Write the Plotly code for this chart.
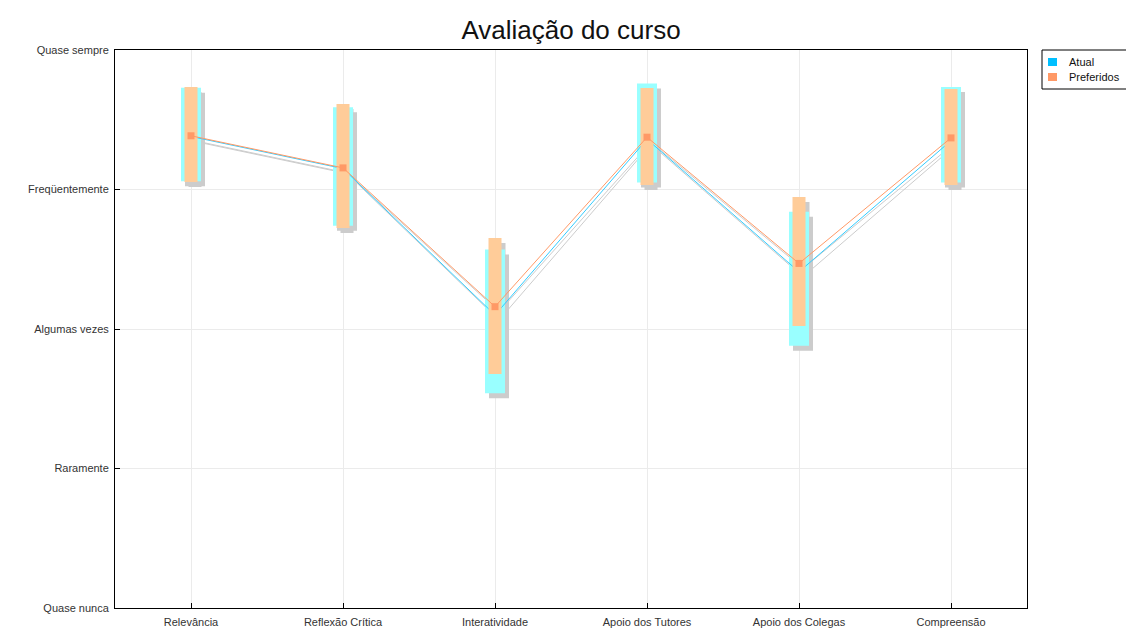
import plotly.graph_objects as go

# ---------------- data ----------------
categories = ["Relevância", "Reflexão Crítica", "Interatividade",
              "Apoio dos Tutores", "Apoio dos Colegas", "Compreensão"]
level_labels = ["Quase nunca", "Raramente", "Algumas vezes",
                "Freqüentemente", "Quase sempre"]
level_values = [1, 2, 3, 4, 5]
series_names = ["Atual", "Preferidos"]

atual_mean = [4.38, 4.15, 3.10, 4.36, 3.41, 4.35]
atual_low = [4.06, 3.74, 2.54, 4.05, 2.88, 4.05]
atual_high = [4.73, 4.59, 3.57, 4.76, 3.84, 4.735]

pref_mean = [4.385, 4.155, 3.16, 4.375, 3.47, 4.37]
pref_low = [4.054, 3.724, 2.677, 4.032, 3.022, 4.032]
pref_high = [4.735, 4.613, 3.652, 4.728, 3.946, 4.72]

# ---------------- style ----------------
W, H = 1126, 629
ML, MR, MT, MB = 115, 99, 50, 21
PW, PH = W - ML - MR, H - MT - MB
XMIN, XMAX = -0.5, len(categories) - 0.5
YMIN, YMAX = 1, 5
PX_X = (XMAX - XMIN) / PW   # data units per pixel
PX_Y = (YMAX - YMIN) / PH

C_ATUAL_BAR = "#99ffff"
C_PREF_BAR = "#ffcc99"
C_SHADOW = "#cccccc"
C_ATUAL_LINE = "#33ccff"
C_PREF_LINE = "#ff9966"
C_ATUAL_LEG = "#00bfff"

SH_DX, SH_DY = 4 * PX_X, -5 * PX_Y
HW_ATUAL = 10 * PX_X
HW_PREF = 6.5 * PX_X


def rects(lows, highs, hw, dx=0.0, dy=0.0):
    xs, ys = [], []
    for i, (lo, hi) in enumerate(zip(lows, highs)):
        x0, x1 = i - hw + dx, i + hw + dx
        xs += [x0, x1, x1, x0, x0, None]
        ys += [lo + dy, lo + dy, hi + dy, hi + dy, lo + dy, None]
    return xs, ys


xi = list(range(len(categories)))
fig = go.Figure()

# shadows of bars
for lows, highs, hw in [(atual_low, atual_high, HW_ATUAL), (pref_low, pref_high, HW_PREF)]:
    xs, ys = rects(lows, highs, hw, SH_DX, SH_DY)
    fig.add_trace(go.Scatter(x=xs, y=ys, mode="lines", fill="toself",
                             fillcolor=C_SHADOW, line=dict(width=0),
                             showlegend=False, hoverinfo="skip"))
# shadows of lines
for means in [atual_mean, pref_mean]:
    fig.add_trace(go.Scatter(x=[x + SH_DX for x in xi], y=[m + SH_DY for m in means],
                             mode="lines", line=dict(color=C_SHADOW, width=1),
                             showlegend=False, hoverinfo="skip"))
# atual bars and line
xs, ys = rects(atual_low, atual_high, HW_ATUAL)
fig.add_trace(go.Scatter(x=xs, y=ys, mode="lines", fill="toself",
                         fillcolor=C_ATUAL_BAR, line=dict(width=0),
                         name=series_names[0], showlegend=False, hoverinfo="skip"))
fig.add_trace(go.Scatter(x=xi, y=atual_mean, mode="lines",
                         line=dict(color=C_ATUAL_LINE, width=1),
                         name=series_names[0], showlegend=False, hoverinfo="skip"))
# preferidos bars and line
xs, ys = rects(pref_low, pref_high, HW_PREF)
fig.add_trace(go.Scatter(x=xs, y=ys, mode="lines", fill="toself",
                         fillcolor=C_PREF_BAR, line=dict(width=0),
                         name=series_names[1], showlegend=False, hoverinfo="skip"))
fig.add_trace(go.Scatter(x=xi, y=pref_mean, mode="lines+markers",
                         line=dict(color=C_PREF_LINE, width=1),
                         marker=dict(symbol="square", size=7, color=C_PREF_LINE),
                         name=series_names[1], showlegend=False, hoverinfo="skip"))

FONT = "Liberation Sans, Arial, sans-serif"


def px(xp):
    return (xp - ML) / PW


def py(yp):
    return 1 - (yp - MT) / PH


# legend box (drawn as shapes + text so it sits like the reference)
shapes = [dict(type="rect", xref="paper", yref="paper",
               x0=px(1042), x1=px(1140), y0=py(89), y1=py(50),
               line=dict(color="black", width=1), fillcolor="white", layer="above")]
annotations = []
for k, (name, col) in enumerate(zip(series_names, [C_ATUAL_LEG, C_PREF_LINE])):
    yc = 62 + 15 * k
    shapes.append(dict(type="rect", xref="paper", yref="paper",
                       x0=px(1048), x1=px(1057), y0=py(yc + 4), y1=py(yc - 4),
                       line=dict(width=0), fillcolor=col, layer="above"))
    annotations.append(dict(text=name, xref="paper", yref="paper",
                            x=px(1067), y=py(yc), xanchor="left", yanchor="middle",
                            showarrow=False,
                            font=dict(family=FONT, size=11, color="#111111")))

fig.update_layout(
    width=W, height=H,
    margin=dict(l=ML, r=MR, t=MT, b=MB, autoexpand=False),
    paper_bgcolor="white", plot_bgcolor="white",
    font=dict(family=FONT, size=11, color="#333333"),
    title=dict(text="Avaliação do curso", x=(ML + PW / 2) / W, xanchor="center",
               y=1 - 30 / H, yanchor="middle",
               font=dict(family=FONT, size=26, color="#111111")),
    showlegend=False,
    shapes=shapes,
    annotations=annotations,
    xaxis=dict(range=[XMIN, XMAX], tickmode="array", tickvals=xi, ticktext=categories,
               showgrid=True, gridcolor="#ebebeb", zeroline=False,
               showline=True, linecolor="black", linewidth=1, mirror=True,
               ticks="inside", ticklen=5, tickcolor="black", fixedrange=True,
               ticklabelstandoff=4),
    yaxis=dict(range=[YMIN, YMAX], tickmode="array", tickvals=level_values,
               ticktext=level_labels,
               showgrid=True, gridcolor="#ebebeb", zeroline=False,
               showline=True, linecolor="black", linewidth=1, mirror=True,
               ticks="inside", ticklen=5, tickcolor="black", fixedrange=True,
               ticklabelstandoff=3),
)

fig.write_html("out.html", include_plotlyjs=True,
               config={"displayModeBar": False},
               post_script="document.body.style.margin='0';")
